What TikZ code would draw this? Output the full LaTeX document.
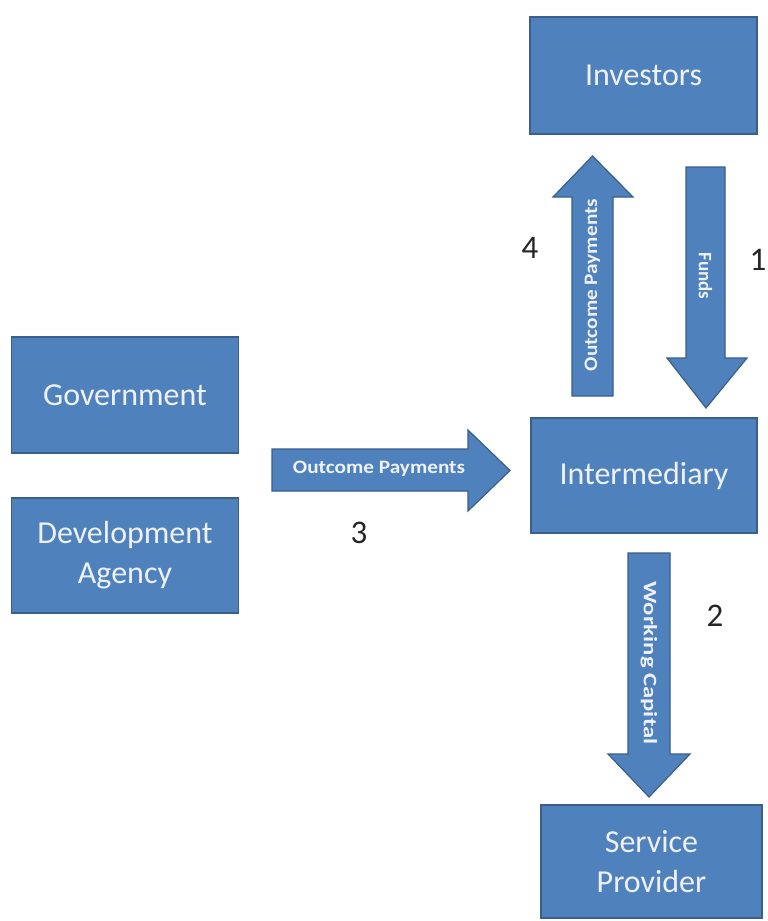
\documentclass[tikz,border=0pt]{standalone}
\usepackage{fontspec}
\setmainfont{Carlito}
\definecolor{boxfill}{HTML}{4F81BD}
\definecolor{boxline}{HTML}{3A5F8B}
\definecolor{boxtext}{HTML}{EEF2F8}
\begin{document}
\begin{tikzpicture}[x=1pt,y=-1pt,
  party/.style={draw=boxline,fill=boxfill,line width=1.5pt,text=boxtext,
    font=\fontsize{32}{40}\selectfont,align=center,inner sep=0pt},
  flow/.style={draw=boxline,fill=boxfill,line width=1.2pt,line join=miter},
  flowlabel/.style={text=boxtext,font=\fontsize{19}{22}\selectfont\bfseries,inner sep=0pt},
  stepnum/.style={text=black!85,font=\fontsize{33}{36}\selectfont,inner sep=0pt}]
\useasboundingbox (0,0) rectangle (768,921);
\fill[white] (0,0) rectangle (768,921);

% parties
\node[party,minimum width=227pt,minimum height=117pt] (inv) at (643.5,75.5) {Investors};
\node[party,minimum width=227pt,minimum height=116pt] (gov) at (125,395) {Government};
\node[party,minimum width=227pt,minimum height=115pt] (dev) at (125,555.5) {Development\\Agency};
\node[party,minimum width=226pt,minimum height=115pt] (int) at (644,475.5) {Intermediary};
\node[party,minimum width=221pt,minimum height=113pt] (sp) at (651.5,861.5) {Service\\Provider};

% block arrows between the parties
% 4: outcome payments, intermediary -> investors
\draw[flow] (572,396) -- (572,197) -- (553,197) -- (592.5,156) -- (633,197) -- (613,197) -- (613,396) -- cycle;
\node[flowlabel,rotate=90] (lbl4) at (592.5,285) {\scalebox{1.12}[1]{Outcome Payments}};
% 1: funds, investors -> intermediary
\draw[flow] (686,167) -- (725,167) -- (725,358) -- (747,358) -- (706,408) -- (667,358) -- (686,358) -- cycle;
\node[flowlabel,rotate=-90] (lbl1) at (705.5,276) {Funds};
% 3: outcome payments, government / agency -> intermediary
\draw[flow] (272,449) -- (468,449) -- (468,430) -- (510,470.5) -- (468,511) -- (468,491) -- (272,491) -- cycle;
\node[flowlabel] (lbl3) at (379,469) {\scalebox{1.12}[1]{Outcome Payments}};
% 2: working capital, intermediary -> service provider
\draw[flow] (628,553) -- (670,553) -- (670,754) -- (690,754) -- (649,797) -- (608,754) -- (628,754) -- cycle;
\node[flowlabel,rotate=-90] (lbl2) at (649,663) {\scalebox{1.3}[1]{Working Capital}};

% step numbers
\node[stepnum] (n4) at (530,248) {4};
\node[stepnum] (n1) at (758,260) {1};
\node[stepnum] (n3) at (359,533) {3};
\node[stepnum] (n2) at (715,616) {2};
\end{tikzpicture}
\end{document}
